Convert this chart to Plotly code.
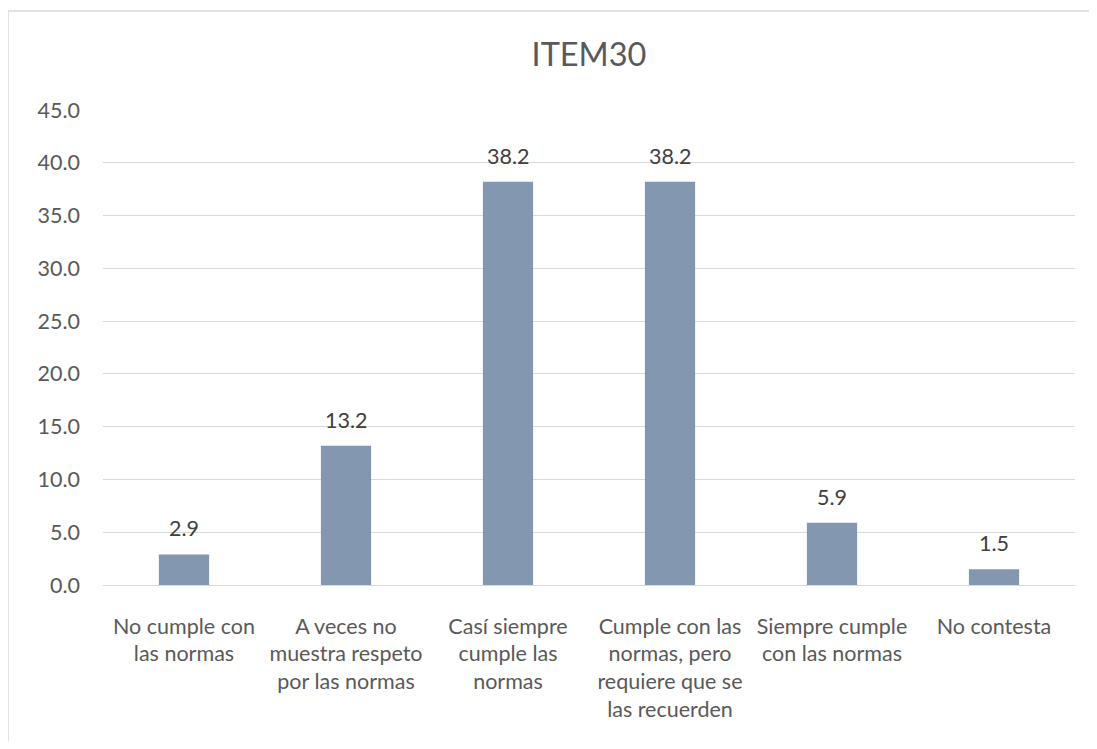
import plotly.graph_objects as go

# Categories (wrapped like the original labels) and percentages
categories = [
    "No cumple con<br>las normas",
    "A veces no<br>muestra respeto<br>por las normas",
    "Casí siempre<br>cumple las<br>normas",
    "Cumple con las<br>normas, pero<br>requiere que se<br>las recuerden",
    "Siempre cumple<br>con las normas",
    "No contesta",
]
values = [2.9, 13.2, 38.2, 38.2, 5.9, 1.5]
y_ticks = [0, 5, 10, 15, 20, 25, 30, 35, 40, 45]

font_family = "Lato, 'Open Sans', sans-serif"

# the page body adds an 8px offset, so the figure is a bit smaller than the window
W, H = 1081, 733
ml, mr, mt, mb = 95, 14, 102, 156
pw, ph = W - ml - mr, H - mt - mb

fig = go.Figure(
    go.Bar(
        x=categories,
        y=values,
        marker=dict(color="#8497B0", line=dict(width=0)),
        hoverinfo="x+y",
    )
)

# value labels above the bars
for cat, v in zip(categories, values):
    fig.add_annotation(
        x=cat, y=v, text=f"{v:.1f}", showarrow=False,
        yanchor="bottom", yshift=11,
        font=dict(size=21.5, color="#404040", family=font_family),
    )

# outer chart border (cropped at the right and bottom like the source image)
bx0 = (0 - ml) / pw
by1 = 1 + (mt - 3) / ph
fig.add_shape(
    type="rect", xref="paper", yref="paper",
    x0=bx0, x1=1.2, y0=-0.6, y1=by1,
    line=dict(color="#D9D9D9", width=1.5), layer="below",
)

fig.update_layout(
    width=W, height=H,
    margin=dict(l=ml, r=mr, t=mt, b=mb),
    paper_bgcolor="white",
    plot_bgcolor="white",
    bargap=0.69,
    showlegend=False,
    title=dict(
        text="ITEM30", x=0.5, xref="paper", y=1 - 46.5 / H, yanchor="middle",
        font=dict(size=32.5, color="#595959", family=font_family),
    ),
    font=dict(family=font_family, color="#595959"),
)

fig.update_xaxes(
    showgrid=False, showline=False, ticks="",
    tickfont=dict(size=21.5, color="#595959"),
    ticklabelstandoff=26,
)
fig.update_yaxes(
    range=[0, 45], tickvals=y_ticks, tickformat=".1f",
    showgrid=True, gridcolor="#D9D9D9", gridwidth=1.3,
    zeroline=True, zerolinecolor="#D9D9D9", zerolinewidth=1.3,
    showline=False, ticks="",
    tickfont=dict(size=21.5, color="#595959"),
    ticklabelstandoff=22,
)

fig.write_html("out.html")
